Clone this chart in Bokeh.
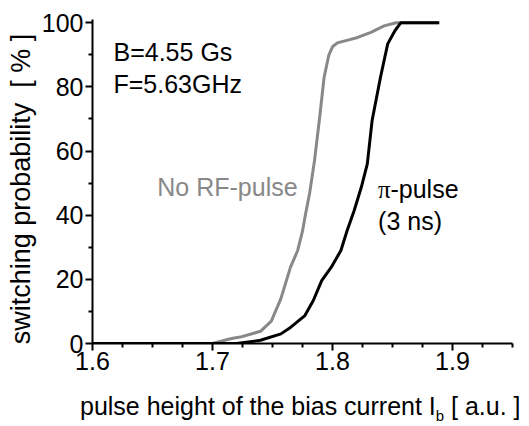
from bokeh.plotting import figure
from bokeh.models import Range1d, FixedTicker, Label, Div
from bokeh.layouts import column
from bokeh.embed import file_html
from bokeh.resources import INLINE

# ---- data ----
x_ticks = [1.6, 1.7, 1.8, 1.9]
x_minor = [1.625, 1.65, 1.675, 1.725, 1.75, 1.775, 1.825, 1.85, 1.875, 1.925, 1.95]
y_ticks = [0, 20, 40, 60, 80, 100]
y_minor = [10, 30, 50, 70, 90]

norf_x = [1.60, 1.70, 1.715, 1.723, 1.740, 1.749, 1.757, 1.765, 1.771, 1.775, 1.777,
          1.781, 1.785, 1.789, 1.793, 1.797, 1.800, 1.804, 1.812, 1.821, 1.832, 1.843,
          1.853, 1.888]
norf_y = [0, 0, 1.5, 2, 3.8, 7, 14, 23.8, 29, 35, 39.3,
          47, 57, 69.5, 83, 90, 92.5, 93.7, 94.5, 95.4, 97, 99,
          100, 100]

pi_x = [1.60, 1.72, 1.740, 1.757, 1.765, 1.777, 1.784, 1.791, 1.799, 1.807, 1.812,
        1.818, 1.824, 1.829, 1.833, 1.840, 1.846, 1.852, 1.857, 1.889]
pi_y = [0, 0, 1, 3, 5, 8.7, 13.4, 19.6, 23.8, 29, 35,
        41.4, 48.7, 56, 69.5, 83, 93.4, 97.5, 100, 100]

FONT = "Liberation Sans"
FS = "25px"
GRAY = "#888888"
NB = "\u00a0"

p = figure(width=529, height=389, output_backend="svg", toolbar_location=None,
           x_range=Range1d(1.6, 1.95), y_range=Range1d(0, 101),
           min_border_left=92, min_border_right=17, min_border_top=19, min_border_bottom=46)
p.outline_line_color = None
p.xgrid.visible = False
p.ygrid.visible = False

p.line(norf_x, norf_y, line_color=GRAY, line_width=3)
p.line(pi_x, pi_y, line_color="black", line_width=3)

for ax in (p.xaxis[0], p.yaxis[0]):
    ax.axis_line_width = 2
    ax.axis_line_color = "black"
    ax.major_tick_line_width = 2
    ax.minor_tick_line_width = 2
    ax.major_tick_out = 7
    ax.major_tick_in = 0
    ax.minor_tick_out = 4
    ax.minor_tick_in = 0
    ax.major_label_text_font = FONT
    ax.major_label_text_font_size = FS
    ax.major_label_text_color = "black"

p.xaxis.ticker = FixedTicker(ticks=x_ticks, minor_ticks=x_minor)
p.yaxis.ticker = FixedTicker(ticks=y_ticks, minor_ticks=y_minor)
p.xaxis.major_label_overrides = {1.6: "1.6", 1.7: "1.7", 1.8: "1.8", 1.9: "1.9"}
p.xaxis.major_label_standoff = 1
p.yaxis.major_label_standoff = 2

p.yaxis.axis_label = "switching probability" + NB + NB + "[" + NB + "%" + NB + "]" + NB + NB
p.yaxis.axis_label_text_font = FONT
p.yaxis.axis_label_text_font_size = "27px"
p.yaxis.axis_label_text_font_style = "normal"
p.yaxis.axis_label_text_color = "black"
p.yaxis.axis_label_standoff = 3

def lab(x, y, text, color="black", size=FS, font=FONT):
    p.add_layout(Label(x=x, y=y, text=text, text_color=color, text_font=font,
                       text_font_size=size, text_align="left",
                       text_baseline="alphabetic"))

# annotations
lab(1.6175, 90.75, "B=4.55 Gs")
lab(1.6175, 80.9, "F=5.63GHz")
lab(1.654, 48.7, "No RF-pulse", color=GRAY)
lab(1.838, 48.1, "π", font="Liberation Serif")
lab(1.8483, 48.1, "-pulse")
lab(1.838, 38.3, "(3 ns)")

# x-axis title (with subscript), as text under the plot
xtitle = Div(
    text=('<div style="font-family:\'Liberation Sans\';font-size:25px;line-height:34px;'
          'color:black;padding-left:80px;white-space:nowrap;margin:0;">'
          'pulse height of the bias current I'
          '<span style="font-size:15px;line-height:15px;vertical-align:-6px;">b</span>'
          ' [ a.u. ]</div>'),
    width=529, height=37, margin=(0, 0, 0, 0))

layout = column(p, xtitle, spacing=0)

open("out.html", "w").write(file_html(layout, INLINE))
